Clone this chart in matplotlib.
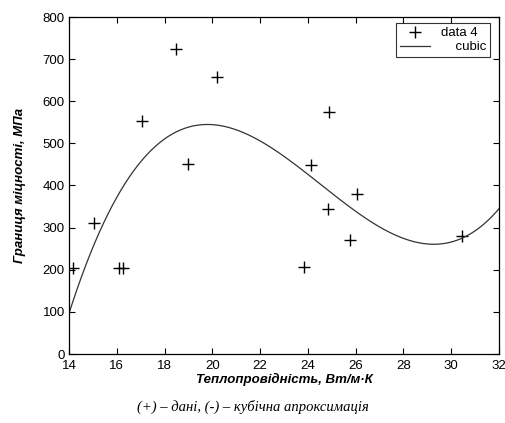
import numpy as np
import matplotlib
matplotlib.use("Agg")
import matplotlib.pyplot as plt

# data
x_data = [14.15, 15.03, 16.1, 16.25, 17.04, 18.46, 19.0, 20.2, 23.85, 24.15, 24.87, 24.85, 25.76, 26.05, 30.45]
y_data = [205, 310, 205, 205, 553, 723, 451, 657, 206, 449, 575, 344, 271, 381, 279]
x_ticks = [14, 16, 18, 20, 22, 24, 26, 28, 30, 32]
y_ticks = [0, 100, 200, 300, 400, 500, 600, 700, 800]

coef = np.polyfit(x_data, y_data, 3)
xf = np.linspace(14, 32, 300)
yf = np.polyval(coef, xf)

fig = plt.figure(figsize=(5.06, 4.23), dpi=100)
ax = fig.add_axes([69/506, 1-354/423, (499-69)/506, (354-17)/423])

ax.plot(x_data, y_data, '+', color='black', markersize=8, markeredgewidth=1.0, label='data 4')
ax.plot(xf, yf, '-', color='#333333', linewidth=0.9, label='    cubic')

ax.set_xlim(14, 32)
ax.set_ylim(0, 800)
ax.set_xticks(x_ticks)
ax.set_yticks(y_ticks)
ax.tick_params(direction='in', top=True, right=True, length=4.5, labelsize=9.5)
ax.tick_params(axis='x', pad=4)
ax.tick_params(axis='y', pad=3)
for lab in ax.get_xticklabels() + ax.get_yticklabels():
    lab.set_family('Liberation Sans')
for s in ax.spines.values():
    s.set_linewidth(0.9)

ax.set_xlabel('Теплопровідність, Вт/м·К', fontsize=9.5, fontweight='bold', fontstyle='italic',
              family='Liberation Sans', labelpad=1)
ax.set_ylabel('Границя міцності, МПа', fontsize=9.5, fontweight='bold', fontstyle='italic',
              family='Liberation Sans', labelpad=12)

leg = ax.legend(loc='upper right', frameon=True, fancybox=False, edgecolor='black',
                bbox_to_anchor=(1 - 9/430, 1 - 6/337), borderaxespad=0.0,
                handlelength=2.3, handletextpad=0.8, borderpad=0.3, labelspacing=0.15,
                prop={'family': 'Liberation Sans', 'size': 9.5})
leg.get_frame().set_linewidth(0.8)

fig.text(0.5, 1-407/423, '(+) – дані, (-) – кубічна апроксимація', ha='center', va='center',
         fontsize=10.5, fontstyle='italic', family='Liberation Serif')

fig.savefig('out.png', dpi=100)
